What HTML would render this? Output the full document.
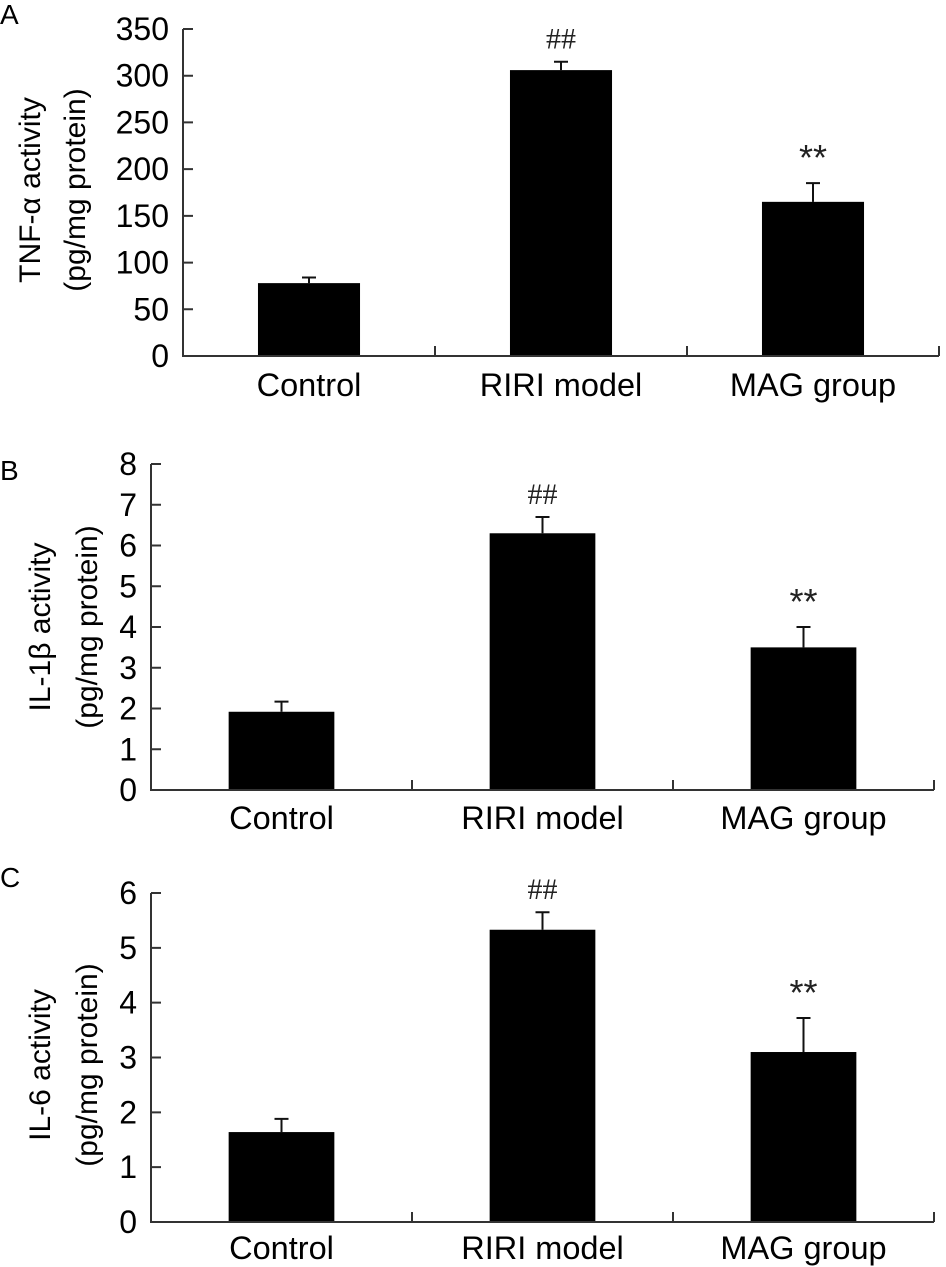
<!DOCTYPE html>
<html><head><meta charset="utf-8"><style>
html,body{margin:0;padding:0;background:#fff;}
svg{display:block;font-family:"Liberation Sans",Arial,sans-serif;}
</style></head><body>
<svg id="chart" width="946" height="1267" viewBox="0 0 946 1267"></svg>
<script>
const categories = ["Control", "RIRI model", "MAG group"];
const tnfValues = [78, 306, 165];
const tnfErrors = [84, 315, 185];
const tnfTicks = [0, 50, 100, 150, 200, 250, 300, 350];
const il1bValues = [1.92, 6.3, 3.5];
const il1bErrors = [2.17, 6.7, 4.0];
const il1bTicks = [0, 1, 2, 3, 4, 5, 6, 7, 8];
const il6Values = [1.64, 5.33, 3.1];
const il6Errors = [1.88, 5.65, 3.72];
const il6Ticks = [0, 1, 2, 3, 4, 5, 6];
const marks = ["", "##", "**"];

const NS = "http://www.w3.org/2000/svg";
const svg = document.getElementById("chart");
function mk(tag, attrs, parent, text) {
  const e = document.createElementNS(NS, tag);
  for (const k in attrs) e.setAttribute(k, attrs[k]);
  if (text !== undefined) e.textContent = text;
  parent.appendChild(e);
  return e;
}

function panel(cfg) {
  const g = mk("g", {}, svg);
  
  
  const x0 = cfg.x0, x1 = cfg.x1, yTop = cfg.yTop, yBot = cfg.yBot;
  const maxV = cfg.ticks[cfg.ticks.length - 1];
  const y = v => yBot - (v / maxV) * (yBot - yTop);
  const cw = (x1 - x0) / categories.length;
  const xc = i => x0 + cw * (i + 0.5);
  const bw = cw * 0.405;

  const letter = mk("text", {x: 0, y: cfg.letterY, "font-size": 28}, g, cfg.letter);
  
  

  const title = mk("text", {transform: `translate(${cfg.tx},${cfg.ty}) rotate(-90)`, "text-anchor": "middle", "font-size": 30}, g);
  
  
  mk("tspan", {x: 0, dy: 0}, title, cfg.title1);
  mk("tspan", {x: 0, dy: cfg.tdy}, title, "(pg/mg protein)");

  categories.forEach((c, i) => {
    const cx = xc(i);
    const eb = mk("path", {d: `M${cx},${y(cfg.values[i])}V${y(cfg.errors[i])}M${cx-7},${y(cfg.errors[i])}H${cx+7}`, stroke: "#111", "stroke-width": 2, fill: "none"}, g);
    
    
    const r = mk("rect", {x: cx - bw/2, y: y(cfg.values[i]), width: bw, height: yBot - y(cfg.values[i]), fill: "#000"}, g);
    
    
    if (marks[i]) {
      const m = mk("text", {x: cx, y: y(cfg.errors[i]) - 13, "text-anchor": "middle", "font-size": marks[i] === "##" ? 30 : 36, fill: "#222", "font-family": marks[i] === "##" ? "Liberation Serif, serif" : "Liberation Sans, sans-serif"}, g, marks[i]);
      
      
    }
    const lab = mk("text", {x: cx, y: cfg.labY, "text-anchor": "middle", "font-size": 32.5}, g, c);
    
    
  });

  let d = `M${x0},${yTop}V${yBot}H${x1}`;
  cfg.ticks.forEach(t => { d += `M${x0},${y(t)}H${x0+10}`; });
  for (let i = 1; i <= categories.length; i++) d += `M${x0+cw*i},${yBot}V${yBot-10}`;
  const ax = mk("path", {d: d, stroke: "#333", "stroke-width": 2, fill: "none"}, g);
  
  
  cfg.ticks.forEach(t => {
    const tl = mk("text", {x: x0 - 14, y: y(t) + 11, "text-anchor": "end", "font-size": 32}, g, String(t));
    
    
  });
}

panel({name: "panel-a-tnf", letter: "A", letterY: 24, x0: 183, x1: 939, yTop: 29, yBot: 356,
  ticks: tnfTicks, values: tnfValues, errors: tnfErrors, title1: "TNF-α activity",
  tx: 40, ty: 190, tdy: 45, labY: 396});
panel({name: "panel-b-il1b", letter: "B", letterY: 480, x0: 151, x1: 934, yTop: 464, yBot: 790,
  ticks: il1bTicks, values: il1bValues, errors: il1bErrors, title1: "IL-1β activity",
  tx: 50, ty: 627, tdy: 47, labY: 829});
panel({name: "panel-c-il6", letter: "C", letterY: 887, x0: 151, x1: 934, yTop: 893, yBot: 1222,
  ticks: il6Ticks, values: il6Values, errors: il6Errors, title1: "IL-6 activity",
  tx: 50, ty: 1065, tdy: 47, labY: 1259});
</script>
</body></html>
